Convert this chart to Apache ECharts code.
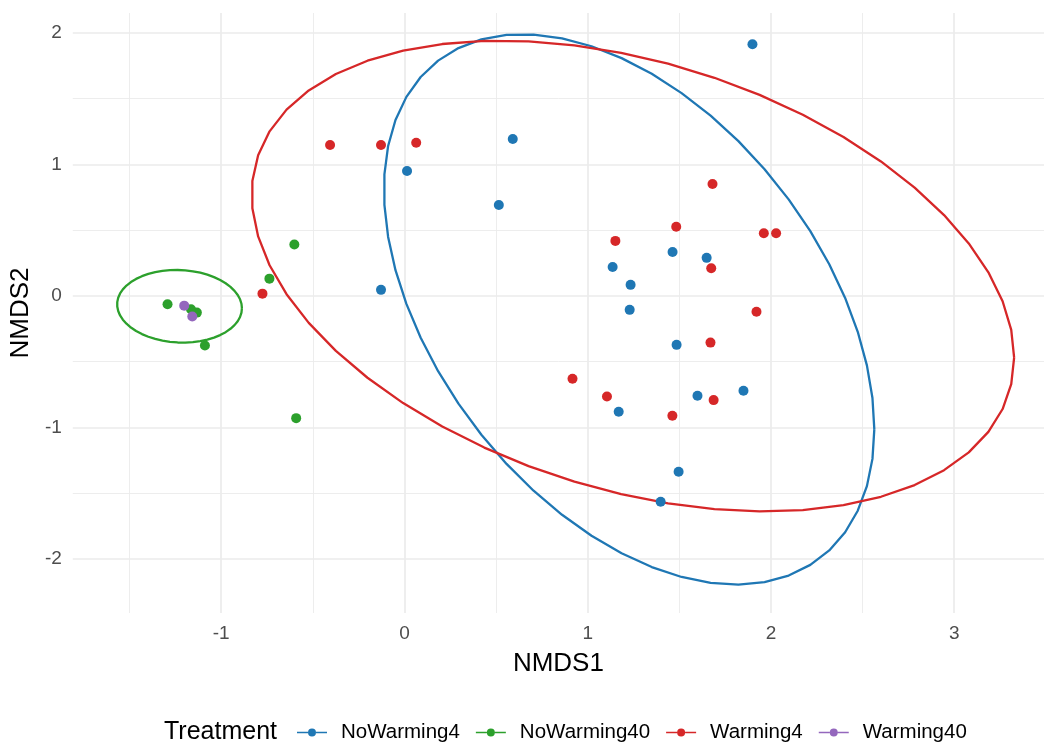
<!DOCTYPE html>
<html>
<head>
<meta charset="utf-8">
<script src="https://cdn.jsdelivr.net/npm/echarts@6/dist/echarts.min.js"></script>
<style>
html,body{margin:0;padding:0;background:#fff;}
#chart{width:1049px;height:744px;}
</style>
</head>
<body>
<div id="chart"></div>
<script>
// ---- data ----
const groups = ['NoWarming4', 'NoWarming40', 'Warming4', 'Warming40'];
const colors = ['#1f77b4', '#2ca02c', '#d62728', '#9467bd'];

const noWarming4 = [
  [1.899, 1.913], [0.591, 1.192], [0.014, 0.949], [0.515, 0.691], [-0.128, 0.046],
  [1.463, 0.334], [1.649, 0.289], [1.136, 0.220], [1.234, 0.084], [1.229, -0.106],
  [1.485, -0.372], [1.599, -0.759], [1.850, -0.721], [1.169, -0.881], [1.496, -1.336],
  [1.398, -1.564]
];
const noWarming40 = [
  [-0.601, 0.390], [-0.737, 0.131], [-0.591, -0.929], [-1.293, -0.063],
  [-1.133, -0.127], [-1.165, -0.101], [-1.089, -0.377]
];
const warming4 = [
  [-0.406, 1.147], [-0.128, 1.147], [0.064, 1.164], [1.681, 0.850], [1.483, 0.526],
  [1.151, 0.418], [1.961, 0.476], [2.028, 0.476], [1.674, 0.210], [1.921, -0.121],
  [1.670, -0.355], [0.917, -0.630], [1.105, -0.765], [1.687, -0.792], [1.462, -0.911],
  [-0.775, 0.017]
];
const warming40 = [
  [-1.202, -0.074], [-1.158, -0.157]
];

// ellipse parameters: [centerX, centerY, halfWidthX, halfHeightY, covarianceTerm]
const ellipseNoWarming4 = [1.226, -0.1025, 1.338, 2.0915, -1.22];
const ellipseNoWarming40 = [-1.2275, -0.079, 0.3405, 0.276, -0.005];
const ellipseWarming4 = [1.2465, 0.151, 2.0805, 1.789, -1.29];

const xTicks = [-1, 0, 1, 2, 3];
const yTicks = [-2, -1, 0, 1, 2];

// ---- helpers ----
function ellipsePath(p) {
  const [cx, cy, hx, hy, s] = p;
  const c = s / hx;
  const d = Math.sqrt(hy * hy - c * c);
  const pts = [];
  const segs = 51;
  for (let i = 0; i <= segs; i++) {
    const t = 2 * Math.PI * i / segs;
    pts.push([cx + hx * Math.cos(t), cy + c * Math.cos(t) + d * Math.sin(t)]);
  }
  return pts;
}

const pointSets = [noWarming4, noWarming40, warming4, warming40];
const ellipses = [ellipseNoWarming4, ellipseNoWarming40, ellipseWarming4, null];

const series = [];
groups.forEach((g, i) => {
  if (ellipses[i]) {
    series.push({
      name: g, type: 'line', data: ellipsePath(ellipses[i]),
      showSymbol: false, symbol: 'none', smooth: false, z: 2,
      lineStyle: { color: colors[i], width: 2.3 },
      itemStyle: { color: colors[i] },
      silent: true
    });
  }
});
groups.forEach((g, i) => {
  series.push({
    name: g, type: 'scatter', data: pointSets[i],
    symbol: 'circle', symbolSize: 10, z: 5,
    itemStyle: { color: colors[i], opacity: 1 }
  });
});

const legendIcon = 'path://M0,4.2H11V5.8H0Z M19,4.2H30V5.8H19Z M11,5A4,4 0 1,1 19,5A4,4 0 1,1 11,5Z';

const chart = echarts.init(document.getElementById('chart'), null, { renderer: 'canvas' });
chart.setOption({
  animation: false,
  backgroundColor: '#ffffff',
  grid: { left: 72, right: 5, top: 13, bottom: 131, containLabel: false },
  xAxis: {
    type: 'value', min: -1.81, max: 3.49,
    name: 'NMDS1', nameLocation: 'middle', nameGap: 38,
    nameTextStyle: { color: '#000', fontSize: 26, fontFamily: 'Liberation Sans' },
    axisLine: { show: false }, axisTick: { show: false },
    axisLabel: { color: '#4d4d4d', fontSize: 19, margin: 11, fontFamily: 'Liberation Sans',
      customValues: xTicks },
    splitLine: { show: true, showMinLine: false, showMaxLine: false, lineStyle: { color: '#ebebeb', width: 1.7 } },
    minorTick: { show: false, splitNumber: 2 },
    minorSplitLine: { show: true, lineStyle: { color: '#ebebeb', width: 0.9 } }
  },
  yAxis: {
    type: 'value', min: -2.41, max: 2.15,
    name: 'NMDS2', nameLocation: 'middle', nameGap: 25,
    nameTextStyle: { color: '#000', fontSize: 26, fontFamily: 'Liberation Sans' },
    axisLine: { show: false }, axisTick: { show: false },
    axisLabel: { color: '#4d4d4d', fontSize: 19, margin: 11, fontFamily: 'Liberation Sans',
      customValues: yTicks },
    splitLine: { show: true, showMinLine: false, showMaxLine: false, lineStyle: { color: '#ebebeb', width: 1.7 } },
    minorTick: { show: false, splitNumber: 2 },
    minorSplitLine: { show: true, lineStyle: { color: '#ebebeb', width: 0.9 } }
  },
  legend: {
    show: true, orient: 'horizontal', left: 292, top: 717,
    itemWidth: 30, itemHeight: 10, itemGap: 16, selectedMode: false,
    data: groups.map((g, i) => ({ name: g, icon: legendIcon, itemStyle: { color: colors[i] } })),
    textStyle: { color: '#000', fontSize: 20.5, fontFamily: 'Liberation Sans', padding: [0, 0, 0, 9] }
  },
  graphic: [{
    type: 'text', left: 164, top: 720,
    style: { text: 'Treatment', fill: '#000', fontSize: 25, fontFamily: 'Liberation Sans' }
  }],
  series: series
});
</script>
</body>
</html>
